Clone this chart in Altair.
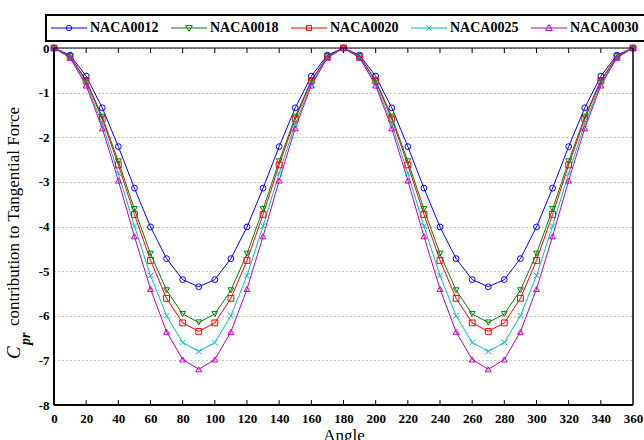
import altair as alt
import pandas as pd

angles = list(range(0, 361, 10))
naca0012 = [0, -0.16, -0.63, -1.34, -2.21, -3.14, -4.01, -4.72, -5.19, -5.35, -5.19, -4.72, -4.01, -3.14, -2.21, -1.34, -0.63, -0.16, 0,
            -0.16, -0.63, -1.34, -2.21, -3.14, -4.01, -4.72, -5.19, -5.35, -5.19, -4.72, -4.01, -3.14, -2.21, -1.34, -0.63, -0.16, 0]
naca0018 = [0, -0.19, -0.72, -1.54, -2.54, -3.61, -4.61, -5.43, -5.96, -6.15, -5.96, -5.43, -4.61, -3.61, -2.54, -1.54, -0.72, -0.19, 0,
            -0.19, -0.72, -1.54, -2.54, -3.61, -4.61, -5.43, -5.96, -6.15, -5.96, -5.43, -4.61, -3.61, -2.54, -1.54, -0.72, -0.19, 0]
naca0020 = [0, -0.19, -0.74, -1.59, -2.62, -3.73, -4.76, -5.61, -6.16, -6.35, -6.16, -5.61, -4.76, -3.73, -2.62, -1.59, -0.74, -0.19, 0,
            -0.19, -0.74, -1.59, -2.62, -3.73, -4.76, -5.61, -6.16, -6.35, -6.16, -5.61, -4.76, -3.73, -2.62, -1.59, -0.74, -0.19, 0]
naca0025 = [0, -0.21, -0.80, -1.70, -2.81, -3.99, -5.10, -6.00, -6.60, -6.80, -6.60, -6.00, -5.10, -3.99, -2.81, -1.70, -0.80, -0.21, 0,
            -0.21, -0.80, -1.70, -2.81, -3.99, -5.10, -6.00, -6.60, -6.80, -6.60, -6.00, -5.10, -3.99, -2.81, -1.70, -0.80, -0.21, 0]
naca0030 = [0, -0.22, -0.84, -1.80, -2.97, -4.22, -5.40, -6.36, -6.98, -7.20, -6.98, -6.36, -5.40, -4.22, -2.97, -1.80, -0.84, -0.22, 0,
            -0.22, -0.84, -1.80, -2.97, -4.22, -5.40, -6.36, -6.98, -7.20, -6.98, -6.36, -5.40, -4.22, -2.97, -1.80, -0.84, -0.22, 0]

series_names = ["NACA0012", "NACA0018", "NACA0020", "NACA0025", "NACA0030"]
series_values = [naca0012, naca0018, naca0020, naca0025, naca0030]
colors = ["#0000ff", "#008000", "#ff0000", "#00bfbf", "#bf00bf"]
x_ticks = list(range(0, 361, 20))
inner_ticks = list(range(20, 360, 20))
y_ticks = list(range(-8, 1))

plot_shapes = ["circle", "triangle-down", "square", "M-1,-1L1,1M-1,1L1,-1", "triangle-up"]
legend_shapes = [
    "M-3,0H3M-0.45,0A0.45,0.45,0,1,0,0.45,0A0.45,0.45,0,1,0,-0.45,0",
    "M-3,0H3M-0.55,-0.4L0.55,-0.4L0,0.55Z",
    "M-3,0H3M-0.42,-0.42H0.42V0.42H-0.42Z",
    "M-3,0H3M-0.42,-0.42L0.42,0.42M-0.42,0.42L0.42,-0.42",
    "M-3,0H3M-0.55,0.4L0.55,0.4L0,-0.55Z",
]

rows = []
for name, vals in zip(series_names, series_values):
    for a, v in zip(angles, vals):
        rows.append({"Angle": a, "Cpr": v, "Series": name})
df = pd.DataFrame(rows)

W, H = 579, 357
FONT = "Liberation Serif"

xscale = alt.Scale(domain=[0, 360], nice=False, zero=False)
yscale = alt.Scale(domain=[-8, 0], nice=False, zero=False)

x_axis = alt.Axis(
    values=x_ticks, title="Angle", grid=False, ticks=False, domain=False,
    labelOverlap=False, labelFlush=False,
    labelFont=FONT, labelFontWeight="bold", labelFontSize=13, labelColor="black",
    labelPadding=7, titleFont=FONT, titleFontSize=17, titleFontWeight="normal",
    titleColor="black", titlePadding=2)
y_axis = alt.Axis(
    values=y_ticks, title=None, grid=True, gridDash=[1, 3], gridColor="#888888",
    gridWidth=1, ticks=False, domain=False, labelExpr="'' + datum.value",
    labelOverlap=False, labelFlush=False,
    labelFont=FONT, labelFontWeight="bold", labelFontSize=13, labelColor="black",
    labelPadding=5)
x_enc = alt.X("Angle:Q", scale=xscale, axis=x_axis)
y_enc = alt.Y("Cpr:Q", scale=yscale, axis=y_axis)

color_legendless = alt.Color("Series:N", scale=alt.Scale(domain=series_names, range=colors), legend=None)

lines = alt.Chart(df).mark_line(strokeWidth=1).encode(
    x=x_enc, y=y_enc, color=color_legendless, detail="Series:N")

points = alt.Chart(df).mark_point(filled=False, size=34, strokeWidth=1, opacity=1).encode(
    x=x_enc, y=y_enc,
    color=color_legendless,
    shape=alt.Shape("Series:N", scale=alt.Scale(domain=series_names, range=plot_shapes), legend=None))

leg = alt.Legend(title=None, orient="none", legendX=-8, legendY=-33, direction="horizontal")
legend_layer = alt.Chart(df).transform_filter("false").mark_point(filled=False, strokeWidth=1, opacity=1).encode(
    x=x_enc, y=y_enc,
    color=alt.Color("Series:N", scale=alt.Scale(domain=series_names, range=colors), legend=leg),
    shape=alt.Shape("Series:N", scale=alt.Scale(domain=series_names, range=legend_shapes), legend=leg))

tick_df = pd.DataFrame({"t": inner_ticks})
bottom_ticks = alt.Chart(tick_df).mark_rule(color="black", strokeWidth=1).encode(
    x=alt.X("t:Q", scale=xscale, axis=x_axis), y=alt.value(H), y2=alt.value(H - 5))
top_ticks = alt.Chart(tick_df).mark_rule(color="black", strokeWidth=1).encode(
    x=alt.X("t:Q", scale=xscale, axis=x_axis), y=alt.value(0), y2=alt.value(5))

frame_df = pd.DataFrame({"a": [0]})
left_line = alt.Chart(frame_df).mark_rule(color="black", strokeWidth=2).encode(
    x=alt.value(0), y=alt.value(0), y2=alt.value(H))
bottom_line = alt.Chart(frame_df).mark_rule(color="black", strokeWidth=2).encode(
    x=alt.value(0), x2=alt.value(W), y=alt.value(H))
right_line = alt.Chart(frame_df).mark_rule(color="black", strokeWidth=1.5).encode(
    x=alt.value(W), y=alt.value(0), y2=alt.value(H))
top_line = alt.Chart(frame_df).mark_rule(color="black", strokeWidth=1).encode(
    x=alt.value(0), x2=alt.value(W), y=alt.value(0))

t_c = alt.Chart(frame_df).mark_text(font=FONT, fontSize=19, fontStyle="italic", angle=270,
                                    align="left", baseline="middle", color="black").encode(
    x=alt.value(-40), y=alt.value(311), text=alt.value("C"))
t_pr = alt.Chart(frame_df).mark_text(font=FONT, fontSize=14, fontStyle="italic", fontWeight="bold",
                                     angle=270, align="left", baseline="middle", color="black").encode(
    x=alt.value(-28), y=alt.value(297), text=alt.value("pr"))
t_rest = alt.Chart(frame_df).mark_text(font=FONT, fontSize=17, angle=270,
                                       align="left", baseline="middle", color="black").encode(
    x=alt.value(-40), y=alt.value(278), text=alt.value("contribution to Tangential Force"))

chart = alt.layer(
    lines, points, legend_layer, bottom_ticks, top_ticks,
    left_line, bottom_line, right_line, top_line, t_c, t_pr, t_rest
).resolve_scale(color="independent", shape="independent").properties(
    width=W, height=H,
    autosize=alt.AutoSizeParams(type="none"),
    padding={"left": 54, "top": 48, "right": 11, "bottom": 35},
    background="white"
).configure_view(stroke=None).configure_axis(
    labelFont=FONT, titleFont=FONT, labelFontWeight="bold", labelColor="black"
).configure_legend(
    labelFont=FONT, labelFontWeight="bold", labelFontSize=14, labelColor="black",
    strokeColor="black", strokeWidth=2, padding=6, columnPadding=10,
    symbolSize=144, symbolOffset=10, labelOffset=14, symbolStrokeWidth=1,
    fillColor="white"
)

chart.save("out.html", embed_options={"renderer": "svg", "actions": False})
